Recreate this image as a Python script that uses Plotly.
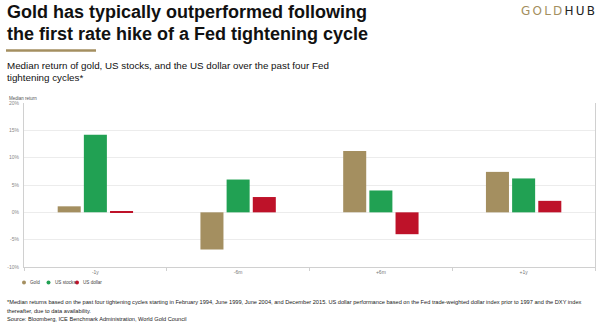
import plotly.graph_objects as go

categories = ["-1y", "-6m", "+6m", "+1y"]
gold = [1.1, -6.8, 11.2, 7.4]
us_stocks = [14.2, 6.0, 4.0, 6.2]
us_dollar = [0.1, 2.8, -4.0, 2.1]
series_names = ["Gold", "US stocks", "US dollar"]
colors = ["#A48F60", "#21A153", "#BE1229"]
tick_vals = [-10, -5, 0, 5, 10, 15, 20]
tick_text = ["-10%", "-5%", "0%", "5%", "10%", "15%", "20%"]

title_lines = ["Gold has typically outperformed following",
               "the first rate hike of a Fed tightening cycle"]
subtitle_lines = ["Median return of gold, US stocks, and the US dollar over the past four Fed",
                  "tightening cycles*"]
footnote_lines = ["*Median returns based on the past four tightening cycles starting in February 1994, June 1999, June 2004, and December 2015. US dollar performance based on the Fed trade-weighted dollar index prior to 1997 and the DXY index",
                  "thereafter, due to data availability.",
                  "Source: Bloomberg, ICE Benchmark Administration, World Gold Council"]

FONT = "Liberation Sans, Arial, sans-serif"
W, H = 600, 326
L, R, T, B = 24, 595, 103, 267

def px(x):
    return (x - L) / (R - L)

def py(y):
    return (B - y) / (B - T)

fig = go.Figure()
for name, vals, c in zip(series_names, [gold, us_stocks, us_dollar], colors):
    fig.add_trace(go.Bar(x=categories, y=vals, name=name, marker=dict(color=c, line=dict(width=0)),
                         showlegend=False))

fig.update_layout(
    width=W, height=H,
    margin=dict(l=L, r=W - R, t=T, b=H - B),
    paper_bgcolor="white", plot_bgcolor="white",
    barmode="group", bargap=0.45, bargroupgap=0.12,
    font=dict(family=FONT, color="#222"),
    showlegend=False,
    xaxis=dict(showline=True, linecolor="#d0d0d0", linewidth=1, ticks="outside",
               tickson="boundaries", ticklen=3, tickcolor="#d0d0d0",
               tickfont=dict(size=5, color="#777"), showgrid=False),
    yaxis=dict(range=[-10, 20], tickvals=tick_vals, ticktext=tick_text,
               showline=True, mirror=True, linecolor="#d0d0d0", linewidth=1,
               showgrid=True, gridcolor="#ececec", gridwidth=1,
               zeroline=False, tickfont=dict(size=5, color="#888"), ticklabelstandoff=3),
)

ann = []
for i, t in enumerate(title_lines):
    ann.append(dict(text="<b>" + t + "</b>", x=px(5), y=py(11.5 + 22 * i), xanchor="left", yanchor="middle",
                    font=dict(size=18, color="#111", family=FONT)))
ann.append(dict(text="<span style='letter-spacing:2.2px'><span style='color:#A48F60'>GOLD</span>HUB</span>",
                x=px(599), y=py(11), xanchor="right", yanchor="middle",
                font=dict(size=12, color="#222", family="DejaVu Sans, sans-serif")))
for i, t in enumerate(subtitle_lines):
    ann.append(dict(text=t, x=px(5), y=py(65.5 + 11.5 * i), xanchor="left", yanchor="middle",
                    font=dict(size=9.8, color="#111", family=FONT)))
ann.append(dict(text="Median return", x=px(7), y=py(98), xanchor="left", yanchor="middle",
                font=dict(size=4.5, color="#555", family=FONT)))
for i, t in enumerate(footnote_lines):
    ann.append(dict(text=t, x=px(5), y=py(302 + 8.5 * i), xanchor="left", yanchor="middle",
                    font=dict(size=5.65, color="#222", family=FONT)))
leg_x = [24, 48.5, 77]
for name, lx in zip(series_names, leg_x):
    ann.append(dict(text=name, x=px(lx + 4), y=py(282.5), xanchor="left", yanchor="middle",
                    font=dict(size=4.6, color="#444", family=FONT)))
for a in ann:
    a.update(xref="paper", yref="paper", showarrow=False)
fig.update_layout(annotations=ann)

shapes = []
for c, lx in zip(colors, leg_x):
    shapes.append(dict(type="circle", xref="paper", yref="paper",
                       x0=px(lx - 2), x1=px(lx + 2), y0=py(284.5), y1=py(280.5),
                       fillcolor=c, line=dict(width=0)))
shapes.append(dict(type="line", xref="paper", yref="paper", x0=px(6), x1=px(96), y0=py(50.5), y1=py(50.5),
                   line=dict(color="#A48F60", width=2.5)))
fig.update_layout(shapes=shapes)

fig.write_html("out.html")
